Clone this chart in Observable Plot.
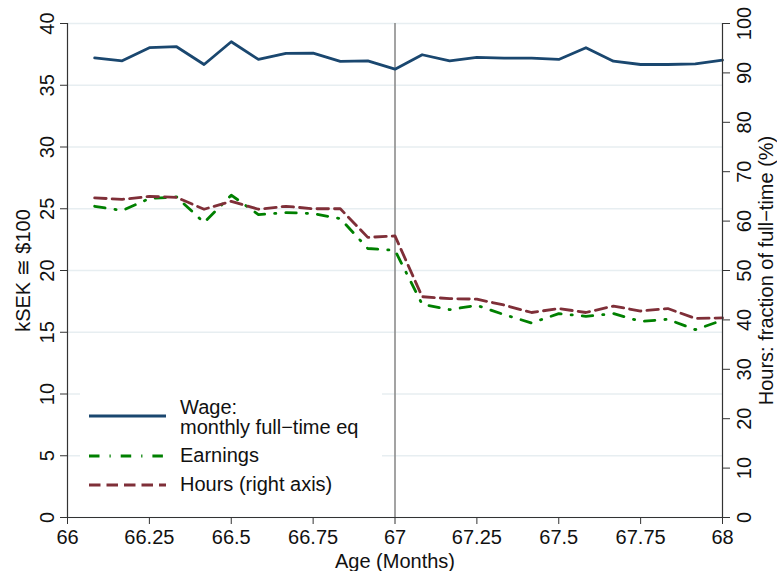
<!DOCTYPE html>
<html>
<head>
<meta charset="utf-8">
<script src="https://cdn.jsdelivr.net/npm/d3@7"></script>
<script src="https://cdn.jsdelivr.net/npm/@observablehq/plot@0.6"></script>
<style>
  body { margin: 0; background: #fff; }
  #chart svg { display: block; font-family: "Liberation Sans", Arial, Helvetica, sans-serif; }
</style>
</head>
<body>
<div id="chart"></div>
<script>
// Monthly observations, age in years (66 + months/12)
const age = [66.083, 66.167, 66.25, 66.333, 66.417, 66.5, 66.583, 66.667, 66.75, 66.833, 66.917, 67.0,
             67.083, 67.167, 67.25, 67.333, 67.417, 67.5, 67.583, 67.667, 67.75, 67.833, 67.917, 68.0];
// Wage: monthly full-time equivalent, kSEK (left axis)
const wage = [37.22, 36.98, 38.04, 38.12, 36.68, 38.52, 37.09, 37.58, 37.60, 36.93, 36.98, 36.30,
              37.47, 36.98, 37.25, 37.20, 37.20, 37.09, 38.04, 36.95, 36.68, 36.68, 36.73, 37.03];
// Earnings, kSEK (left axis)
const earnings = [25.20, 24.85, 25.83, 25.96, 23.88, 26.10, 24.53, 24.69, 24.61, 24.20, 21.78, 21.63,
                  17.26, 16.83, 17.18, 16.43, 15.75, 16.51, 16.29, 16.51, 15.88, 16.05, 15.21, 15.97];
// Hours as a fraction of full-time, % (right axis)
const hours = [64.7, 64.4, 65.0, 64.8, 62.4, 64.0, 62.4, 63.0, 62.5, 62.5, 56.7, 57.0,
               44.7, 44.3, 44.2, 43.0, 41.5, 42.3, 41.5, 42.8, 41.8, 42.3, 40.3, 40.4];

const xTicks = [66, 66.25, 66.5, 66.75, 67, 67.25, 67.5, 67.75, 68];
const leftTicks = [0, 5, 10, 15, 20, 25, 30, 35, 40];
const rightTicks = [0, 10, 20, 30, 40, 50, 60, 70, 80, 90, 100];
const cutoffAge = 67;

// right axis (0–100) shares the left scale (0–40)
const rightToLeft = 40 / 100;

const rows = age.map((a, i) => ({age: a, wage: wage[i], earnings: earnings[i], hours: hours[i]}));

const colors = {wage: "#1a476f", earnings: "#008000", hours: "#7f2f38"};
const dashEarnings = "10.5,10,1.2,10";
const dashHours = "11.5,6";
const font = `"Liberation Sans", Arial, Helvetica, sans-serif`;

const chart = Plot.plot({
  width: 777,
  height: 571,
  marginLeft: 67,
  marginRight: 55,
  marginTop: 23,
  marginBottom: 54,
  style: {fontFamily: font, fontSize: "20px", color: "#111", background: "#fff", overflow: "visible"},
  x: {domain: [66, 68]},
  y: {domain: [0, 40]},
  marks: [
    Plot.gridY(leftTicks, {stroke: "#e7eef1", strokeOpacity: 1, strokeWidth: 1.6}),
    Plot.ruleX([cutoffAge], {stroke: "#8c8c8c", strokeWidth: 1.6}),
    Plot.lineY(rows, {x: "age", y: "wage", stroke: colors.wage, strokeWidth: 2.8}),
    Plot.lineY(rows, {x: "age", y: "earnings", stroke: colors.earnings, strokeWidth: 2.8, strokeDasharray: dashEarnings}),
    Plot.lineY(rows, {x: "age", y: d => d.hours * rightToLeft, stroke: colors.hours, strokeWidth: 2.8, strokeDasharray: dashHours}),
    Plot.axisX(xTicks, {
      tickSize: 7, tickPadding: 5, fontSize: 20, stroke: "#333",
      tickFormat: d => String(d),
      label: "Age (Months)", labelAnchor: "center", labelOffset: 50, labelArrow: "none"
    }),
    Plot.axisY(leftTicks, {
      anchor: "left", tickSize: 7, tickRotate: -90, tickPadding: 7, fontSize: 20, stroke: "#333",
      tickFormat: d => String(d),
      label: "kSEK ≅ $100", labelAnchor: "center", labelOffset: 52, labelArrow: "none"
    }),
    Plot.axisY(rightTicks.map(v => v * rightToLeft), {
      anchor: "right", tickSize: 7, tickRotate: -90, tickPadding: 7, lineAnchor: "top", fontSize: 20, stroke: "#333",
      tickFormat: d => String(Math.round(d / rightToLeft)),
      label: "Hours: fraction of full−time (%)", labelAnchor: "center", labelOffset: 50, labelArrow: "none"
    }),
    Plot.ruleX([66, 68], {stroke: "#333", strokeWidth: 1.2}),
    Plot.ruleY([0], {stroke: "#333", strokeWidth: 1.2})
  ]
});

document.getElementById("chart").append(chart);

// Legend drawn inside the plot area, on a white box
const svg = d3.select(chart);
const legend = svg.append("g")
  .attr("font-family", font).attr("font-size", 20).attr("fill", "#111")
  .attr("text-anchor", "start");
legend.append("rect").attr("x", 80).attr("y", 378).attr("width", 302).attr("height", 128).attr("fill", "#fff");
const entries = [
  {lines: ["Wage:", "monthly full−time eq"], color: colors.wage, dash: null, y: 416, baselines: [414, 434]},
  {lines: ["Earnings"], color: colors.earnings, dash: dashEarnings, y: 456, baselines: [462]},
  {lines: ["Hours (right axis)"], color: colors.hours, dash: dashHours, y: 485, baselines: [491]}
];
for (const e of entries) {
  legend.append("line")
    .attr("x1", 89).attr("x2", 166).attr("y1", e.y).attr("y2", e.y)
    .attr("stroke", e.color).attr("stroke-width", 2.8)
    .attr("stroke-dasharray", e.dash);
  e.lines.forEach((t, i) => {
    legend.append("text").attr("x", 180).attr("y", e.baselines[i]).attr("text-anchor", "start").text(t);
  });
}
</script>
</body>
</html>
